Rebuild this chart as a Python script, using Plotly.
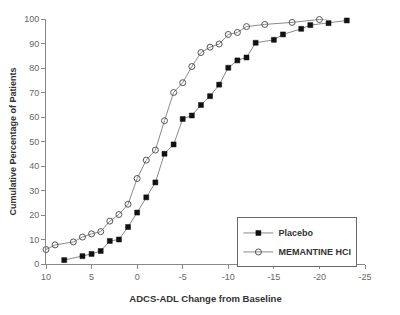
import plotly.graph_objects as go

placebo_x = [8, 6, 5, 4, 3, 2, 1, 0, -1, -2, -3, -4, -5, -6, -7, -8, -9, -10, -11, -12, -13, -15, -16, -18, -19, -21, -23]
placebo_y = [1.6, 3.2, 4.1, 5.3, 9.4, 10.0, 15.1, 21.0, 27.2, 33.3, 45.0, 48.8, 59.2, 60.6, 64.9, 68.5, 73.2, 80.1, 83.1, 84.3, 90.3, 91.5, 93.7, 96.0, 97.5, 98.3, 99.4]

memantine_x = [10, 9, 7, 6, 5, 4, 3, 2, 1, 0, -1, -2, -3, -4, -5, -6, -7, -8, -9, -10, -11, -12, -14, -17, -20, -23]
memantine_y = [5.9, 7.8, 9.0, 11.0, 12.3, 13.2, 17.5, 20.2, 24.4, 34.9, 42.4, 46.5, 58.5, 70.0, 74.0, 80.6, 86.3, 88.5, 89.8, 93.7, 94.5, 96.9, 97.8, 98.6, 99.8, 100.8]

x_ticks = [10, 5, 0, -5, -10, -15, -20, -25]
y_ticks = [0, 10, 20, 30, 40, 50, 60, 70, 80, 90, 100]

font_family = "Liberation Sans, Arial, sans-serif"

fig = go.Figure()
fig.add_trace(go.Scatter(
    x=placebo_x, y=placebo_y, name="Placebo", mode="lines+markers",
    line=dict(color="#8a8a8a", width=1),
    marker=dict(symbol="square", size=5, color="#111111", line=dict(color="#111111", width=0.5)),
    cliponaxis=False,
))
fig.add_trace(go.Scatter(
    x=memantine_x, y=memantine_y, name="MEMANTINE HCI", mode="lines+markers",
    line=dict(color="#8a8a8a", width=1),
    marker=dict(symbol="circle-open", size=6, color="#555555", line=dict(color="#555555", width=1)),
    cliponaxis=False,
))

fig.update_layout(
    width=400, height=315,
    margin=dict(l=42, r=35, t=19, b=51, pad=0),
    paper_bgcolor="white", plot_bgcolor="white",
    font=dict(family=font_family, size=9, color="#666666"),
    showlegend=True,
    legend=dict(
        x=0.6, y=0.19, xanchor="left", yanchor="top",
        bordercolor="#666666", borderwidth=1, bgcolor="white",
        font=dict(family=font_family, size=9, color="#333333", weight="bold"),
        tracegroupgap=0, itemwidth=30,
    ),
    xaxis=dict(
        range=[10, -25], autorange=False,
        tickvals=x_ticks, ticktext=[str(v) for v in x_ticks],
        showline=True, linecolor="#888888", linewidth=1,
        ticks="outside", ticklen=4, tickcolor="#888888",
        showgrid=False, zeroline=False,
        title=dict(text="ADCS-ADL Change from Baseline", standoff=14,
                   font=dict(family=font_family, size=9.5, color="#333333", weight="bold")),
    ),
    yaxis=dict(
        range=[0, 100], autorange=False,
        tickvals=y_ticks, ticktext=[str(v) for v in y_ticks],
        showline=True, linecolor="#888888", linewidth=1,
        ticks="outside", ticklen=4, tickcolor="#888888",
        showgrid=False, zeroline=False,
        title=dict(text="Cumulative Percentage of Patients", standoff=6,
                   font=dict(family=font_family, size=9, color="#333333", weight="bold")),
    ),
)

fig.write_html("out.html")
